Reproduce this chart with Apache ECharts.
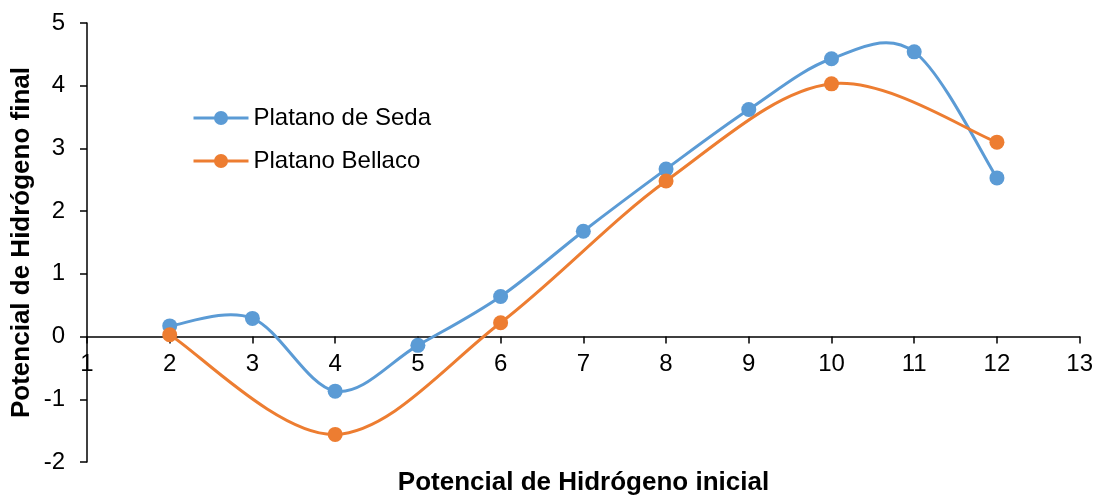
<!DOCTYPE html>
<html>
<head>
<meta charset="utf-8">
<script src="https://cdn.jsdelivr.net/npm/echarts@6/dist/echarts.min.js"></script>
<style>
  html, body { margin: 0; padding: 0; background: #fff; }
  #chart { width: 1096px; height: 495px; }
</style>
</head>
<body>
<div id="chart"></div>
<script>
// pH inicial vs pH final para dos variedades de plátano
const seriesNames = ['Platano de Seda', 'Platano Bellaco'];
const seriesColors = ['#5B9BD5', '#ED7D31'];
const sedaX = [2, 3, 4, 5, 6, 7, 8, 9, 10, 11, 12];
const sedaY = [0.17, 0.29, -0.87, -0.14, 0.64, 1.68, 2.67, 3.62, 4.43, 4.54, 2.53];
const bellacoX = [2, 4, 6, 8, 10, 12];
const bellacoY = [0.03, -1.56, 0.22, 2.48, 4.03, 3.10];
const xTitle = 'Potencial de Hidrógeno inicial';
const yTitle = 'Potencial de Hidrógeno final';

const X_MIN = 1, X_MAX = 13, Y_MIN = -2, Y_MAX = 5;
const GRID = { left: 87, right: 16, top: 23, bottom: 33 };
const CHART_W = 1096, CHART_H = 495;

const pairs = (xs, ys) => xs.map((x, i) => [x, ys[i]]);

// Smooth curve through the points: cubic Bezier segments with
// Catmull-Rom tangents, computed in pixel space.
function curveRenderer(xs, ys, color) {
  return function (params, api) {
    const i = params.dataIndex;
    const n = xs.length;
    if (i >= n - 1) return null;
    const P = k => {
      const j = Math.min(Math.max(k, 0), n - 1);
      return api.coord([xs[j], ys[j]]);
    };
    const p0 = P(i - 1), p1 = P(i), p2 = P(i + 1), p3 = P(i + 2);
    return {
      type: 'bezierCurve',
      shape: {
        x1: p1[0], y1: p1[1],
        x2: p2[0], y2: p2[1],
        cpx1: p1[0] + (p2[0] - p0[0]) / 6,
        cpy1: p1[1] + (p2[1] - p0[1]) / 6,
        cpx2: p2[0] - (p3[0] - p1[0]) / 6,
        cpy2: p2[1] - (p3[1] - p1[1]) / 6
      },
      style: { stroke: color, lineWidth: 3, fill: null, lineCap: 'round' },
      silent: true
    };
  };
}

const font = '"Liberation Sans", Arial, sans-serif';
const chart = echarts.init(document.getElementById('chart'));

// Height of the plot area and the pixel distance from its bottom to y = 0
const plotH = CHART_H - GRID.top - GRID.bottom;
const zeroOffset = plotH * (0 - Y_MIN) / (Y_MAX - Y_MIN);

chart.setOption({
  animation: false,
  textStyle: { fontFamily: font },
  grid: GRID,
  legend: {
    orient: 'vertical',
    left: 187,
    top: 101,
    itemWidth: 55,
    itemHeight: 17.5,
    itemGap: 19,
    lineStyle: { width: 3, opacity: 1 },
    textStyle: { fontFamily: font, fontSize: 24, lineHeight: 23, color: '#000' },
    data: seriesNames
  },
  xAxis: {
    type: 'value',
    min: X_MIN, max: X_MAX, interval: 1,
    offset: -zeroOffset,
    axisLine: { onZero: false, lineStyle: { color: '#000', width: 1.5 } },
    axisTick: { show: true, length: 7, lineStyle: { color: '#000', width: 1.5 } },
    axisLabel: { color: '#000', fontSize: 24, fontFamily: font, margin: 16 },
    splitLine: { show: false }
  },
  yAxis: {
    type: 'value',
    min: Y_MIN, max: Y_MAX, interval: 1,
    axisLine: { show: true, onZero: false, lineStyle: { color: '#000', width: 1.5 } },
    axisTick: { show: true, length: 7, lineStyle: { color: '#000', width: 1.5 } },
    axisLabel: { color: '#000', fontSize: 24, fontFamily: font, margin: 22 },
    splitLine: { show: false }
  },
  graphic: [
    {
      type: 'text',
      x: (GRID.left + CHART_W - GRID.right) / 2,
      y: 483,
      style: { text: xTitle, font: 'bold 26px ' + font, fill: '#000', align: 'center', verticalAlign: 'middle' }
    },
    {
      type: 'text',
      x: 22,
      y: GRID.top + plotH / 2,
      rotation: Math.PI / 2,
      style: { text: yTitle, font: 'bold 26px ' + font, fill: '#000', align: 'center', verticalAlign: 'middle' }
    }
  ],
  series: [
    // markers (the connecting curve is drawn by the custom series below)
    {
      name: seriesNames[0],
      type: 'line',
      data: pairs(sedaX, sedaY),
      symbol: 'circle',
      symbolSize: 15,
      lineStyle: { color: seriesColors[0], width: 3, opacity: 0 },
      itemStyle: { color: seriesColors[0] },
      z: 5
    },
    {
      name: seriesNames[1],
      type: 'line',
      data: pairs(bellacoX, bellacoY),
      symbol: 'circle',
      symbolSize: 15,
      lineStyle: { color: seriesColors[1], width: 3, opacity: 0 },
      itemStyle: { color: seriesColors[1] },
      z: 6
    },
    {
      name: seriesNames[0],
      type: 'custom',
      data: pairs(sedaX, sedaY),
      renderItem: curveRenderer(sedaX, sedaY, seriesColors[0]),
      z: 2
    },
    {
      name: seriesNames[1],
      type: 'custom',
      data: pairs(bellacoX, bellacoY),
      renderItem: curveRenderer(bellacoX, bellacoY, seriesColors[1]),
      z: 3
    }
  ]
});
</script>
</body>
</html>
